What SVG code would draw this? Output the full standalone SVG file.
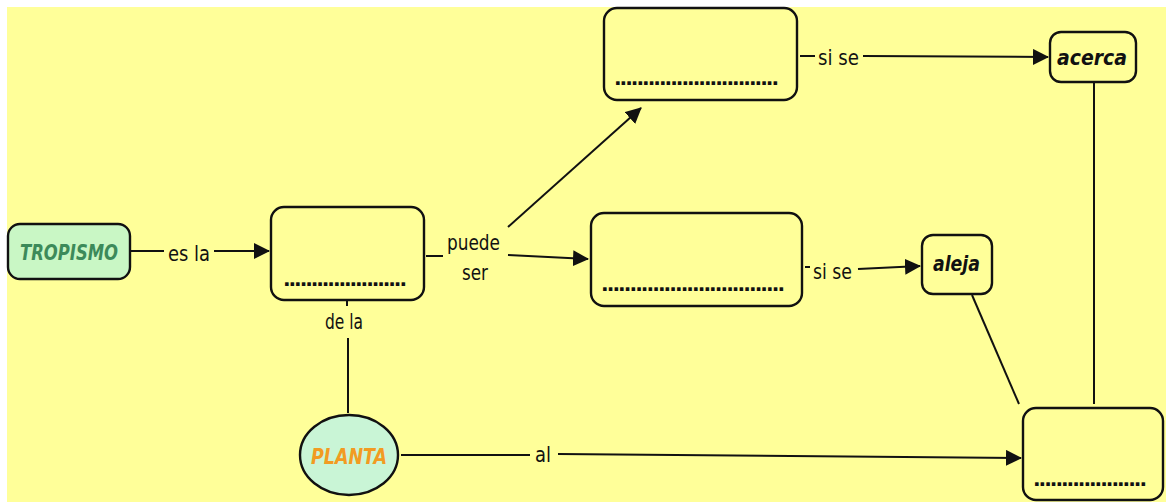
<svg xmlns="http://www.w3.org/2000/svg" width="1166" height="502" viewBox="0 0 1166 502">
<defs>
<style>
.node{fill:#FFFF99;stroke:#111;stroke-width:2.4}
.lbl{font-family:"DejaVu Sans Condensed","DejaVu Sans",sans-serif;font-size:22px;fill:#111}
.dots{font-family:"DejaVu Sans",sans-serif;font-size:20px;font-weight:bold;fill:#111}
.bi{font-family:"DejaVu Sans Condensed","DejaVu Sans",sans-serif;font-weight:bold;font-style:italic}
.ln{stroke:#111;stroke-width:2;fill:none}
</style>
<marker id="ah" markerWidth="16" markerHeight="16" viewBox="0 0 16 16" refX="15" refY="8" orient="auto" markerUnits="userSpaceOnUse">
<path d="M0,0 L16,8 L0,16 Z" fill="#111"/>
</marker>
</defs>
<rect x="0" y="0" width="1166" height="502" fill="#fff"/>
<rect x="7" y="7" width="1159" height="495" fill="#FFFF99"/>

<g id="connectors">
<line class="ln" x1="131" y1="251" x2="164" y2="251"/>
<text class="lbl" x="168" y="261" textLength="42" lengthAdjust="spacingAndGlyphs">es la</text>
<line class="ln" x1="214" y1="251" x2="269" y2="251" marker-end="url(#ah)"/>
<line class="ln" x1="426" y1="256" x2="443" y2="256"/>
<text class="lbl" x="447" y="250" textLength="53" lengthAdjust="spacingAndGlyphs">puede</text>
<text class="lbl" x="462" y="280" textLength="26" lengthAdjust="spacingAndGlyphs">ser</text>
<line class="ln" x1="508" y1="227" x2="641" y2="108" marker-end="url(#ah)"/>
<line class="ln" x1="508" y1="255" x2="588" y2="259" marker-end="url(#ah)"/>
<line class="ln" x1="800" y1="56" x2="815" y2="56"/>
<text class="lbl" x="818" y="65" textLength="41" lengthAdjust="spacingAndGlyphs">si se</text>
<line class="ln" x1="863" y1="56" x2="1048" y2="57" marker-end="url(#ah)"/>
<line class="ln" x1="805" y1="267" x2="810" y2="267"/>
<text class="lbl" x="813" y="279" textLength="39" lengthAdjust="spacingAndGlyphs">si se</text>
<line class="ln" x1="858" y1="269" x2="920" y2="266" marker-end="url(#ah)"/>
<line class="ln" x1="972" y1="295" x2="1019" y2="404"/>
<line class="ln" x1="1094" y1="83" x2="1094" y2="404"/>
<line class="ln" x1="347" y1="301" x2="347" y2="306"/>
<text class="lbl" x="325" y="329" textLength="38" lengthAdjust="spacingAndGlyphs">de la</text>
<line class="ln" x1="348" y1="338" x2="348" y2="413"/>
<line class="ln" x1="401" y1="455" x2="530" y2="455"/>
<text class="lbl" x="535" y="462" textLength="16" lengthAdjust="spacingAndGlyphs">al</text>
<line class="ln" x1="558" y1="454" x2="1021" y2="458" marker-end="url(#ah)"/>
</g>

<g id="tropismo">
<rect x="8" y="224" width="122" height="55" rx="12" fill="#C9F7C5" stroke="#111" stroke-width="2.4"/>
<text class="bi" x="20" y="260" font-size="21" fill="#3C8A5A" textLength="98" lengthAdjust="spacingAndGlyphs">TROPISMO</text>
</g>

<g id="box1">
<rect class="node" x="271" y="207" width="153" height="93" rx="13"/>
<text class="dots" x="283" y="286" textLength="124" lengthAdjust="spacing">......................</text>
</g>

<g id="box-top">
<rect class="node" x="604" y="8" width="193" height="92" rx="13"/>
<text class="dots" x="614" y="85" textLength="165" lengthAdjust="spacing">.............................</text>
</g>

<g id="box-mid">
<rect class="node" x="591" y="213" width="211" height="93" rx="13"/>
<text class="dots" x="601" y="291" textLength="184" lengthAdjust="spacing">................................</text>
</g>

<g id="acerca">
<rect class="node" x="1050" y="32" width="86" height="50" rx="11"/>
<text class="bi" x="1057" y="65" font-size="22" fill="#111" textLength="70" lengthAdjust="spacingAndGlyphs">acerca</text>
</g>

<g id="aleja">
<rect class="node" x="922" y="235" width="70" height="59" rx="11"/>
<text class="bi" x="933" y="271" font-size="22" fill="#111" textLength="47" lengthAdjust="spacingAndGlyphs">aleja</text>
</g>

<g id="planta">
<ellipse cx="349" cy="455" rx="49" ry="40" fill="#C9F5D6" stroke="#111" stroke-width="2.4"/>
<text class="bi" x="311" y="464" font-size="21" fill="#F29B22" textLength="76" lengthAdjust="spacingAndGlyphs">PLANTA</text>
</g>

<g id="box-bottom">
<rect class="node" x="1023" y="408" width="140" height="92" rx="13"/>
<text class="dots" x="1033" y="486" textLength="114" lengthAdjust="spacing">....................</text>
</g>
</svg>
